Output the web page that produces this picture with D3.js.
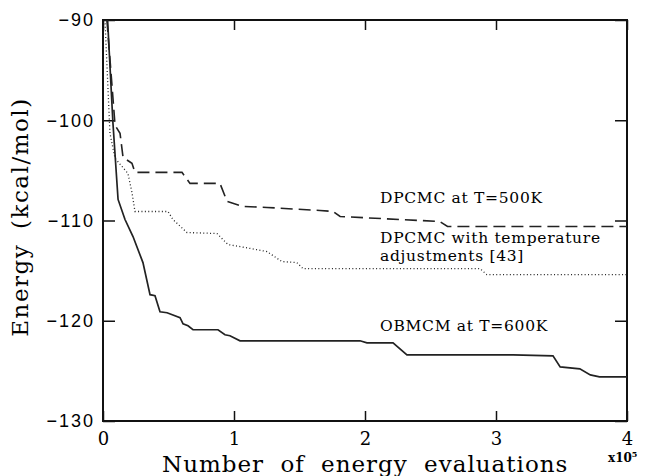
<!DOCTYPE html>
<html>
<head>
<meta charset="utf-8">
<script src="https://cdn.jsdelivr.net/npm/d3@7"></script>
<style>
  body { margin: 0; background: #fff; }
  svg { display: block; }
</style>
</head>
<body>
<script>
const w = 646;
const h = 476;
const margin = { top: 20, right: 19, bottom: 55, left: 103 };

// evaluations (x 10^5) and energies (kcal/mol)
const obmcmX = [0.035, 0.076, 0.115, 0.168, 0.229, 0.305, 0.359, 0.397, 0.435, 0.489, 0.588, 0.611, 0.649, 0.687, 0.878, 0.931, 0.969, 1.046, 1.962, 2.015, 2.214, 2.32, 3.13, 3.435, 3.49, 3.64, 3.72, 3.79, 4.0];
const obmcmE = [-90, -100.3, -107.9, -109.9, -111.6, -114.2, -117.4, -117.5, -119.1, -119.2, -119.7, -120.3, -120.5, -120.9, -120.9, -121.4, -121.5, -122.0, -122.0, -122.2, -122.2, -123.4, -123.4, -123.5, -124.6, -124.8, -125.4, -125.6, -125.6];

const dpcmcX = [0.03, 0.092, 0.13, 0.153, 0.221, 0.244, 0.603, 0.664, 0.893, 0.947, 1.069, 1.252, 1.656, 1.756, 1.81, 2.57, 2.63, 4.0];
const dpcmcE = [-90, -100.5, -101.3, -103.7, -104.3, -105.2, -105.2, -106.3, -106.3, -108.1, -108.6, -108.7, -109.0, -109.1, -109.6, -110.1, -110.6, -110.6];

const tempX = [0.015, 0.053, 0.092, 0.19, 0.221, 0.244, 0.496, 0.534, 0.641, 0.87, 0.954, 1.046, 1.252, 1.366, 1.48, 1.527, 2.878, 2.93, 4.0];
const tempE = [-90, -101.3, -103.8, -105.3, -107.2, -109.1, -109.1, -109.9, -111.2, -111.3, -112.4, -112.6, -113.1, -114.1, -114.2, -114.8, -114.8, -115.4, -115.4];

const xTicks = [0, 1, 2, 3, 4];
const yTicks = [-90, -100, -110, -120, -130];

const iw = w - margin.left - margin.right;
const ih = h - margin.top - margin.bottom;

const x = d3.scaleLinear().domain([0, 4]).range([0, iw]);
const y = d3.scaleLinear().domain([-130, -90]).range([ih, 0]);

const svg = d3.select('body')
  .append('svg')
  .attr('width', w)
  .attr('height', h);

const g = svg.append('g')
  .attr('transform', `translate(${margin.left},${margin.top})`);

g.append('clipPath').attr('id', 'clip')
  .append('rect').attr('width', iw).attr('height', ih);

const serif = '"DejaVu Serif", serif';

// axes: ticks point inwards on all four sides
const xAxis = g.append('g')
  .attr('transform', `translate(0,${ih})`)
  .call(d3.axisBottom(x).tickValues(xTicks).tickSize(-10).tickPadding(11).tickFormat(d3.format('d')));
xAxis.selectAll('text').style('font-family', serif).style('font-size', '18px').attr('fill', '#000');

g.append('g')
  .call(d3.axisTop(x).tickValues(xTicks).tickSize(-10).tickFormat(''));

const yAxis = g.append('g')
  .call(d3.axisLeft(y).tickValues(yTicks).tickSize(-12).tickPadding(8));
yAxis.selectAll('text')
  .style('font-family', '"Liberation Sans", Arial, sans-serif')
  .style('font-size', '18px')
  .style('letter-spacing', '2px')
  .attr('fill', '#000');

g.append('g')
  .attr('transform', `translate(${iw},0)`)
  .call(d3.axisRight(y).tickValues(yTicks).tickSize(-12).tickFormat(''));

g.selectAll('.domain').remove();
g.selectAll('.tick line').attr('stroke', '#111').attr('stroke-width', 1.5);

g.append('rect')
  .attr('width', iw)
  .attr('height', ih)
  .attr('fill', 'none')
  .attr('stroke', '#111')
  .attr('stroke-width', 2);

const line = d3.line()
  .x(d => x(d[0]))
  .y(d => y(d[1]));

const series = [
  { xs: obmcmX, es: obmcmE, dash: null, width: 1.7 },
  { xs: dpcmcX, es: dpcmcE, dash: '12,6', width: 1.6 },
  { xs: tempX, es: tempE, dash: '1,2.4', width: 1.3 }
];

g.append('g').attr('clip-path', 'url(#clip)')
  .selectAll('path')
  .data(series)
  .enter()
  .append('path')
  .attr('d', d => line(d.xs.map((v, i) => [v, d.es[i]])))
  .attr('fill', 'none')
  .attr('stroke', '#222')
  .attr('stroke-width', d => d.width)
  .attr('stroke-dasharray', d => d.dash);

// curve labels
const labels = g.append('g')
  .style('font-family', serif)
  .style('font-size', '15.5px')
  .style('letter-spacing', '0.7px')
  .attr('fill', '#000');

labels.append('text').attr('x', 380 - margin.left).attr('y', 203 - margin.top).text('DPCMC at T=500K');
labels.append('text').attr('x', 380 - margin.left).attr('y', 243 - margin.top).text('DPCMC with temperature');
labels.append('text').attr('x', 380 - margin.left).attr('y', 261 - margin.top).text('adjustments [43]');
labels.append('text').attr('x', 380 - margin.left).attr('y', 331 - margin.top).text('OBMCM at T=600K');

// axis titles
svg.append('text')
  .attr('x', 162)
  .attr('y', 472)
  .style('font-family', serif)
  .style('font-size', '23px')
  .style('letter-spacing', '1px')
  .style('word-spacing', '8px')
  .attr('fill', '#000')
  .text('Number of energy evaluations');

svg.append('text')
  .attr('transform', 'translate(28,217) rotate(-90)')
  .attr('text-anchor', 'middle')
  .style('font-family', serif)
  .style('font-size', '23px')
  .style('letter-spacing', '1.5px')
  .style('word-spacing', '6px')
  .attr('fill', '#000')
  .text('Energy (kcal/mol)');

const mult = svg.append('text')
  .attr('x', 608)
  .attr('y', 462)
  .style('font-family', serif)
  .style('font-size', '12px')
  .style('font-weight', 'bold')
  .attr('fill', '#000');
mult.append('tspan').text('x10');
mult.append('tspan').attr('dy', -5).style('font-size', '8px').text('5');
</script>
</body>
</html>
